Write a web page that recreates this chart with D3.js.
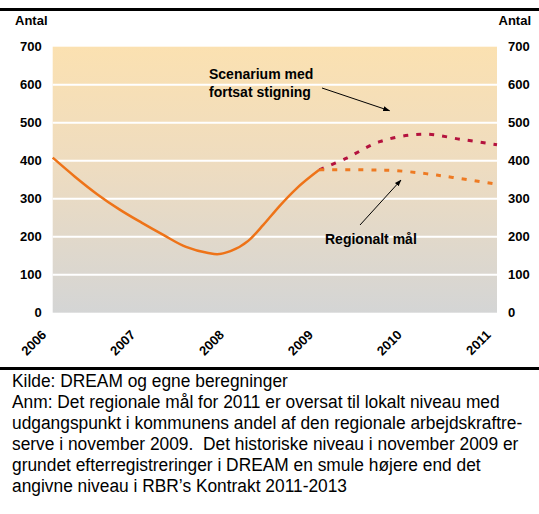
<!DOCTYPE html>
<html><head><meta charset="utf-8">
<script src="https://cdn.jsdelivr.net/npm/d3@7"></script>
<style>
html,body{margin:0;padding:0;background:#fff;}
svg{display:block;}
</style></head>
<body>
<script>
// ---- data ----
const yearTicks = [2006, 2007, 2008, 2009, 2010, 2011];
const yTicks = [0, 100, 200, 300, 400, 500, 600, 700];
const histYears  = [2006, 2006.25, 2006.5, 2006.75, 2007, 2007.25, 2007.5, 2007.75, 2007.85, 2008, 2008.2, 2008.37, 2008.55, 2008.74, 2009];
const histValues = [408, 358, 312, 272, 237, 204, 173, 157, 154, 162, 189, 231, 280, 326, 376];
const goalYears  = [2009, 2009.5, 2009.85, 2010.2, 2010.5, 2011];
const goalValues = [376, 376, 374, 366, 356, 338];
const scenYears  = [2009, 2009.3, 2009.68, 2010.16, 2010.6, 2011];
const scenValues = [376, 406, 450, 470, 456, 442];
const yLabel = "Antal";
const scenLabel = ["Scenarium med", "fortsat stigning"];
const goalLabel = "Regionalt mål";
const caption = [
  "Kilde: DREAM og egne beregninger",
  "Anm: Det regionale mål for 2011 er oversat til lokalt niveau med",
  "udgangspunkt i kommunens andel af den regionale arbejdskraftre-",
  "serve i november 2009.  Det historiske niveau i november 2009 er",
  "grundet efterregistreringer i DREAM en smule højere end det",
  "angivne niveau i RBR’s Kontrakt 2011-2013"
];

const W = 539, H = 514;
const L = 52.7, R = 497, T = 46.7, B = 312.7;
const svg = d3.select("body").append("svg").attr("width", W).attr("height", H);

const x = d3.scaleLinear().domain([2006, 2011]).range([L, R]);
const y = d3.scaleLinear().domain([0, 700]).range([B, T]);

const defs = svg.append("defs");
const grad = defs.append("linearGradient").attr("id","bg").attr("x1",0).attr("y1",0).attr("x2",0).attr("y2",1);
grad.append("stop").attr("offset","0%").attr("stop-color","#FBE1B1");
grad.append("stop").attr("offset","45%").attr("stop-color","#EEDCC0");
grad.append("stop").attr("offset","100%").attr("stop-color","#D4D5D5");
defs.append("marker").attr("id","arr").attr("viewBox","0 0 10 10").attr("refX",9).attr("refY",5)
  .attr("markerWidth",7).attr("markerHeight",7).attr("orient","auto")
  .append("path").attr("d","M0,1.5L10,5L0,8.5z").attr("fill","#000");

// black rules top and bottom
svg.append("rect").attr("x",0).attr("y",8).attr("width",W).attr("height",3).attr("fill","#000");
svg.append("rect").attr("x",0).attr("y",367).attr("width",W).attr("height",3).attr("fill","#000");

// plot background
svg.append("rect").attr("x",L).attr("y",T).attr("width",R-L).attr("height",B-T).attr("fill","url(#bg)");

// gridlines
svg.append("g").selectAll("line").data(yTicks.filter(d=>d>0 && d<700)).join("line")
  .attr("x1",L).attr("x2",R).attr("y1",d=>y(d)).attr("y2",d=>y(d))
  .attr("stroke","#fff").attr("stroke-width",2);

const font = "'Liberation Sans', Arial, sans-serif";

// y axes
const yAxisL = d3.axisLeft(y).tickValues(yTicks).tickSize(0).tickPadding(11);
const gl = svg.append("g").attr("transform",`translate(${L},0)`).call(yAxisL);
const yAxisR = d3.axisRight(y).tickValues(yTicks).tickSize(0).tickPadding(11);
const gr = svg.append("g").attr("transform",`translate(${R},0)`).call(yAxisR);
[gl, gr].forEach(g => {
  g.select(".domain").remove();
  g.selectAll("text").attr("font-family",font).attr("font-size",13).attr("font-weight","bold").attr("fill","#000");
});

svg.append("text").attr("x",15).attr("y",25).text(yLabel)
  .attr("font-family",font).attr("font-size",13).attr("font-weight","bold");
svg.append("text").attr("x",531).attr("y",25).attr("text-anchor","end").text(yLabel)
  .attr("font-family",font).attr("font-size",13).attr("font-weight","bold");

// x axis
const xAxis = d3.axisBottom(x).tickValues(yearTicks).tickFormat(d3.format("d")).tickSize(0).tickPadding(0);
const gx = svg.append("g").attr("transform",`translate(0,${B})`).call(xAxis);
gx.select(".domain").remove();
gx.selectAll("text")
  .attr("font-family",font).attr("font-size",13).attr("font-weight","bold").attr("fill","#000")
  .attr("text-anchor","end").attr("dy",0).attr("y",0)
  .attr("transform","translate(-6,23) rotate(-45)");

// lines
const lineHist = d3.line().x(d=>x(d[0])).y(d=>y(d[1])).curve(d3.curveMonotoneX);
const lineSmooth = d3.line().x(d=>x(d[0])).y(d=>y(d[1])).curve(d3.curveCatmullRom.alpha(0.5));
const hist = histYears.map((v,i)=>[v, histValues[i]]);
const goal = goalYears.map((v,i)=>[v, goalValues[i]]);
const scen = scenYears.map((v,i)=>[v, scenValues[i]]);

svg.append("path").datum(scen).attr("d",lineSmooth).attr("fill","none")
  .attr("stroke","#B4123E").attr("stroke-width",3).attr("stroke-dasharray","5,8");
svg.append("path").datum(goal).attr("d",lineSmooth).attr("fill","none")
  .attr("stroke","#EE7A22").attr("stroke-width",3).attr("stroke-dasharray","5,8");
svg.append("path").datum(hist).attr("d",lineHist).attr("fill","none")
  .attr("stroke","#EE7318").attr("stroke-width",2.5);

// annotations
const ann = svg.append("g").attr("font-family",font).attr("font-size",14).attr("font-weight","bold");
ann.append("text").attr("x",209).attr("y",79).text(scenLabel[0]);
ann.append("text").attr("x",209).attr("y",96.5).text(scenLabel[1]);
ann.append("text").attr("x",325).attr("y",244).text(goalLabel);
svg.append("line").attr("x1",322).attr("y1",88).attr("x2",389.5).attr("y2",110.7)
  .attr("stroke","#000").attr("stroke-width",1).attr("marker-end","url(#arr)");
svg.append("line").attr("x1",360).attr("y1",225).attr("x2",401).attr("y2",180)
  .attr("stroke","#000").attr("stroke-width",1).attr("marker-end","url(#arr)");

// caption (condensed horizontally to match the narrow face)
const capOuter = svg.append("g").attr("transform","translate(12,0)");
const cap = capOuter.append("g").attr("font-family",font).attr("font-size",19).attr("fill","#000");
const capTexts = cap.selectAll("text").data(caption).join("text")
  .attr("x",0).attr("y",(d,i)=>387.5 + i*20.9).text(d=>d)
  .style("white-space","pre");
const w2 = capTexts.nodes()[1].getComputedTextLength();
const sx = 488 / w2;
cap.attr("transform",`scale(${sx},1)`);
</script>
</body></html>
